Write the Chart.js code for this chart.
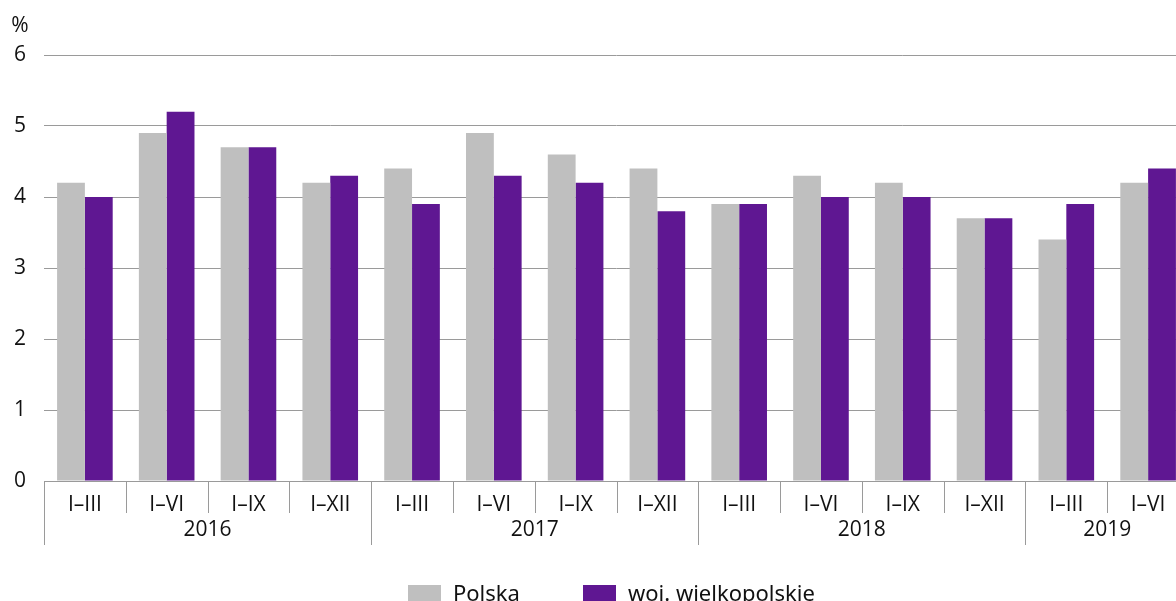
<!DOCTYPE html>
<html>
<head>
<meta charset="utf-8">
<script src="https://cdn.jsdelivr.net/npm/chart.js@4/dist/chart.umd.min.js"></script>
<style>
html,body{margin:0;padding:0;background:#fff;overflow:hidden;}
#wrap{width:1176px;height:601px;position:relative;overflow:hidden;}
</style>
</head>
<body>
<div id="wrap"><canvas id="c" width="1189" height="601"></canvas></div>
<script>
const quarters = ['I–III','I–VI','I–IX','I–XII','I–III','I–VI','I–IX','I–XII','I–III','I–VI','I–IX','I–XII','I–III','I–VI'];
const years = ['2016','2017','2018','2019'];
const yearCounts = [4,4,4,2];
const polska = [4.2,4.9,4.7,4.2,4.4,4.9,4.6,4.4,3.9,4.3,4.2,3.7,3.4,4.2];
const wielkopolskie = [4.0,5.2,4.7,4.3,3.9,4.3,4.2,3.8,3.9,4.0,4.0,3.7,3.9,4.4];
const seriesNames = ['Polska','woj. wielkopolskie'];
const yTicks = [0,1,2,3,4,5,6];
const unitLabel = '%';

const FONT = '"Open Sans", sans-serif';
const LFONT = '"Noto Sans", sans-serif';
const GRAY = '#bfbfbf', PURPLE = '#5f1792', LINE = '#9a9a9a', TEXT = '#111111';

const extras = {
  id: 'extras',
  afterDraw(chart) {
    const ctx = chart.ctx, xs = chart.scales.x, area = chart.chartArea;
    const half = (xs.getPixelForValue(1) - xs.getPixelForValue(0)) / 2;
    ctx.save();
    ctx.strokeStyle = LINE; ctx.lineWidth = 1;
    for (let i = 0; i <= quarters.length; i++) {
      const x = Math.round((i < quarters.length ? xs.getPixelForValue(i) - half : xs.getPixelForValue(i-1) + half)) + 0.5;
      ctx.beginPath(); ctx.moveTo(x, area.bottom); ctx.lineTo(x, area.bottom + 32); ctx.stroke();
    }
    let s = 0;
    ctx.fillStyle = TEXT; ctx.font = '21px ' + FONT; ctx.textAlign = 'center'; ctx.textBaseline = 'middle';
    years.forEach((y, k) => {
      const e = s + yearCounts[k];
      const left = xs.getPixelForValue(s) - half, right = xs.getPixelForValue(e - 1) + half;
      [left, right].forEach(xx => {
        const x = Math.round(xx) + 0.5;
        ctx.beginPath(); ctx.moveTo(x, area.bottom); ctx.lineTo(x, area.bottom + 64); ctx.stroke();
      });
      ctx.fillText(y, (left + right) / 2, area.bottom + 49);
      s = e;
    });
    ctx.fillText(unitLabel, 20, 26);
    const items = [{x: 408, c: GRAY}, {x: 583, c: PURPLE}];
    ctx.font = '22px ' + LFONT;
    ctx.textAlign = 'left'; ctx.textBaseline = 'alphabetic';
    items.forEach((it, i) => {
      ctx.fillStyle = it.c; ctx.fillRect(it.x, 585, 33, 16);
      ctx.fillStyle = TEXT; ctx.fillText(seriesNames[i], it.x + 45, 601);
    });
    ctx.restore();
  }
};

new Chart(document.getElementById('c'), {
  type: 'bar',
  data: {
    labels: quarters,
    datasets: [
      {label: seriesNames[0], data: polska, backgroundColor: GRAY, borderWidth: 0},
      {label: seriesNames[1], data: wielkopolskie, backgroundColor: PURPLE, borderWidth: 0}
    ]
  },
  options: {
    responsive: false,
    animation: false,
    layout: {padding: {top: 55, right: 0, left: 0, bottom: 0}},
    categoryPercentage: 0.68,
    barPercentage: 1.0,
    plugins: {legend: {display: false}, tooltip: {enabled: false}, title: {display: false}},
    scales: {
      x: {
        grid: {display: false, drawTicks: false},
        border: {display: true, color: LINE, width: 1},
        ticks: {color: TEXT, font: {family: FONT, size: 21}, padding: 11, maxRotation: 0, autoSkip: false},
        afterFit: s => { s.height = 120; }
      },
      y: {
        min: 0, max: 6,
        afterBuildTicks: s => { s.ticks = yTicks.map(v => ({value: v})); },
        grid: {color: LINE, lineWidth: 1, drawTicks: false},
        border: {display: false},
        ticks: {color: TEXT, font: {family: FONT, size: 21}, padding: 18},
        afterFit: s => { s.width = 44; }
      }
    }
  },
  plugins: [extras]
});
</script>
</body>
</html>
